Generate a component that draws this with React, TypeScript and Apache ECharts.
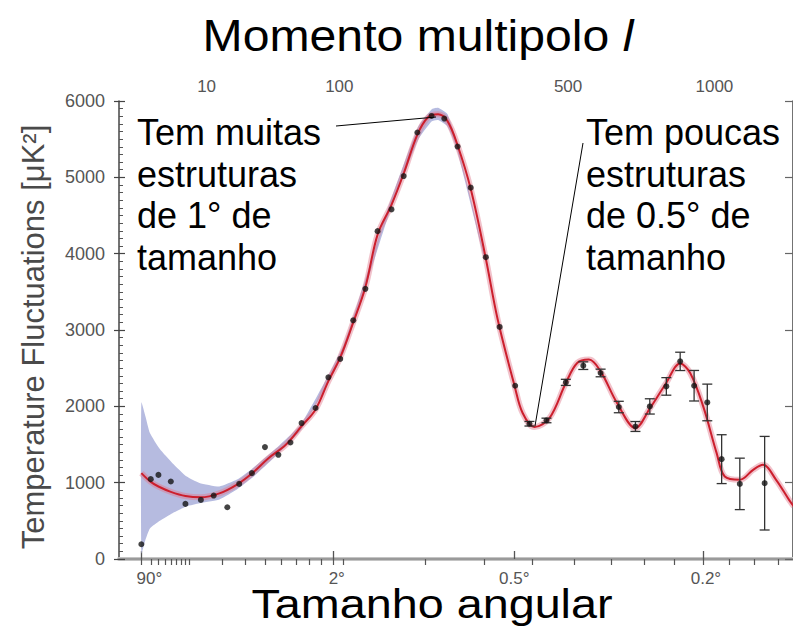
import React, { useEffect, useRef } from "react";
import * as echarts from "echarts";

// Theory curve (multipole l, temperature fluctuation in uK^2)
const curveL = [2, 3, 4, 6, 9, 13, 19, 26, 33, 42, 53, 64, 75, 86, 97, 110, 123, 137, 154, 170, 189, 205, 220, 235, 252, 275, 302, 326, 361, 378, 404, 439, 479, 508, 539, 571, 618, 673, 719, 768, 819, 854, 901, 951, 982, 1041, 1095, 1136, 1192, 1249, 1270];
const curveV = [1125, 1010, 950, 880, 825, 808, 860, 975, 1120, 1320, 1500, 1740, 1960, 2330, 2640, 3100, 3560, 4250, 4640, 5050, 5560, 5790, 5827, 5740, 5420, 4850, 3970, 3140, 2261, 1912, 1728, 1846, 2305, 2568, 2612, 2458, 2043, 1715, 1978, 2283, 2560, 2437, 1999, 1387, 1080, 1037, 1168, 1234, 1037, 774, 690];

// Cosmic-variance band
const bandL = [2, 2.4, 2.9, 4.2, 6.3, 9.3, 12.6, 19, 26, 33, 45, 64, 100, 150, 190, 210, 220, 235, 250, 300];
const bandLo = [75, 250, 400, 500, 600, 690, 730, 780, 910, 1060, 1320, 1700, 2690, 4490, 5490, 5730, 5750, 5670, 5390, 3940];
const bandHi = [2050, 1870, 1650, 1440, 1256, 1080, 997, 950, 1040, 1180, 1420, 1780, 2800, 4610, 5660, 5890, 5910, 5830, 5490, 4000];

// Measured points
const pointL = [2, 3, 4, 6, 9, 13, 17, 22, 27, 33, 40, 48, 56, 64, 75, 86, 97, 110, 123, 137, 154, 170, 189, 210, 230, 252, 275, 303, 330, 362, 393, 432, 479, 524, 571, 623, 673, 718, 772, 819, 868, 916, 970, 1041, 1143];
const pointV = [193, 1046, 1102, 1015, 722, 774, 831, 678, 984, 1125, 1466, 1365, 1526, 1781, 1978, 2380, 2621, 3127, 3539, 4295, 4580, 5017, 5587, 5804, 5770, 5403, 4865, 3954, 3040, 2270, 1772, 1815, 2314, 2533, 2437, 1991, 1736, 1999, 2261, 2589, 2270, 2051, 1308, 984, 993];
const pointErr = [0, 0, 0, 0, 0, 0, 0, 0, 0, 0, 0, 0, 0, 0, 0, 0, 0, 0, 0, 0, 0, 0, 0, 0, 0, 0, 0, 0, 0, 0, 30, 30, 40, 50, 50, 75, 65, 100, 115, 120, 200, 240, 320, 337, 613];

// Axes
const bottomTickL = [2, 90, 360, 900];
const bottomTickLabels = ["90°", "2°", "0.5°", "0.2°"];
const topTickL = [2, 3, 4, 5, 6, 7, 8, 9, 10, 20, 30, 40, 50, 60, 70, 80, 90, 100, 200, 300, 400, 500, 600, 700, 800, 900, 1000, 1100, 1200];
const topLabelL = [10, 100, 500, 1000];
const yMin = 0;
const yMax = 6000;
const yStep = 1000;

// label nudges (px) to mimic the original typesetting
const bottomLabelShift = [8, 4, 0, 3];
const topLabelShift = [17, -4, -6, -15];

const P = 0.4;
const toU = (l: number) => Math.pow(l, P);
const U_MIN = 0.767;
const U_MAX = 17.42;

const FONT = "'Liberation Sans', Arial, Helvetica, sans-serif";

const shiftRich = (shifts: number[]) => {
  const rich: any = {};
  shifts.forEach((s, i) => {
    rich["s" + i] = {
      color: "#555",
      fontSize: 17,
      fontFamily: FONT,
      padding: s >= 0 ? [0, 0, 0, 2 * s] : [0, -2 * s, 0, 0],
    };
  });
  return rich;
};

export default function App() {
  const ref = useRef<HTMLDivElement>(null);
  useEffect(() => {
    if (!ref.current) return;
    const chart = echarts.init(ref.current, null, { renderer: "svg" });

    const bottomVals = bottomTickL.map(toU);
    const topTickVals = topTickL.map(toU);
    const topLabelVals = topLabelL.map(toU);
    const findIdx = (arr: number[], v: number) => {
      let best = 0;
      for (let i = 0; i < arr.length; i++) if (Math.abs(arr[i] - v) < Math.abs(arr[best] - v)) best = i;
      return best;
    };

    const option: any = {
      animation: false,
      backgroundColor: "#ffffff",
      grid: { left: 119, top: 101, width: 678, height: 458, containLabel: false },
      xAxis: [
        {
          type: "value",
          position: "bottom",
          min: U_MIN,
          max: U_MAX,
          axisLine: { show: true, lineStyle: { color: "#c4c4c4", width: 4 } },
          axisTick: { show: true, inside: true, length: 8, customValues: bottomVals, lineStyle: { color: "#555", width: 1.3 } },
          axisLabel: {
            show: true,
            customValues: bottomVals,
            formatter: (v: number) => {
              const i = findIdx(bottomVals, v);
              return "{s" + i + "|" + bottomTickLabels[i] + "}";
            },
            rich: shiftRich(bottomLabelShift),
            color: "#555",
            fontSize: 17,
            fontFamily: FONT,
            margin: 11,
          },
          splitLine: { show: false },
        },
        {
          type: "value",
          position: "top",
          min: U_MIN,
          max: U_MAX,
          axisLine: { show: true, lineStyle: { color: "#9a9a9a", width: 2 } },
          axisTick: { show: true, inside: true, length: 6, customValues: topTickVals, lineStyle: { color: "#555", width: 1.2 } },
          axisLabel: {
            show: true,
            customValues: topLabelVals,
            formatter: (v: number) => {
              const i = findIdx(topLabelVals, v);
              return "{s" + i + "|" + String(topLabelL[i]) + "}";
            },
            rich: shiftRich(topLabelShift),
            color: "#555",
            fontSize: 17,
            fontFamily: FONT,
            margin: 6,
          },
          splitLine: { show: false },
        },
      ],
      yAxis: [
        {
          type: "value",
          position: "left",
          min: yMin,
          max: yMax,
          interval: yStep,
          axisLine: { show: true, lineStyle: { color: "#444", width: 1.5 } },
          axisTick: { show: true, inside: true, length: 6, lineStyle: { color: "#444", width: 1.2 } },
          minorTick: { show: true, splitNumber: 10, length: 4, lineStyle: { color: "#555", width: 1 } },
          axisLabel: { color: "#555", fontSize: 18, fontFamily: FONT, margin: 14, formatter: (v: number) => String(v) },
          splitLine: { show: false },
        },
        {
          type: "value",
          position: "left",
          offset: 0,
          min: yMin,
          max: yMax,
          interval: yStep,
          axisLine: { show: false },
          axisTick: { show: true, inside: false, length: 5, lineStyle: { color: "#444", width: 1.2 } },
          axisLabel: { show: false },
          splitLine: { show: false },
        },
        {
          type: "value",
          position: "right",
          offset: 0,
          min: yMin,
          max: yMax,
          interval: yStep,
          axisLine: { show: true, lineStyle: { color: "#444", width: 1.5 } },
          axisTick: { show: true, inside: true, length: 8, lineStyle: { color: "#666", width: 1.2 } },
          axisLabel: { show: false },
          splitLine: { show: false },
        },
      ],
      series: [
        {
          type: "custom",
          name: "band",
          xAxisIndex: 0,
          yAxisIndex: 0,
          clip: true,
          z: 1,
          data: [[0]],
          renderItem: (_params: any, api: any) => {
            const pts: number[][] = [];
            for (let i = 0; i < bandL.length; i++) pts.push(api.coord([toU(bandL[i]), bandHi[i]]));
            for (let i = bandL.length - 1; i >= 0; i--) pts.push(api.coord([toU(bandL[i]), bandLo[i]]));
            return {
              type: "polygon",
              shape: { points: pts, smooth: 0.15 },
              style: { fill: "#b6bbe0", stroke: "none" },
            };
          },
        },
        {
          type: "line",
          name: "halo",
          xAxisIndex: 0,
          yAxisIndex: 0,
          data: curveL.map((l, i) => [toU(l), curveV[i]]),
          smooth: 0.35,
          symbol: "none",
          z: 2,
          lineStyle: { color: "rgba(225,120,140,0.45)", width: 6 },
        },
        {
          type: "line",
          name: "theory",
          xAxisIndex: 0,
          yAxisIndex: 0,
          data: curveL.map((l, i) => [toU(l), curveV[i]]),
          smooth: 0.35,
          symbol: "none",
          z: 3,
          lineStyle: { color: "#cc1f2d", width: 2 },
        },
        {
          type: "custom",
          name: "errors",
          xAxisIndex: 0,
          yAxisIndex: 0,
          z: 4,
          data: pointL.map((l, i) => [toU(l), pointV[i], pointErr[i]]).filter((d) => d[2] > 0),
          renderItem: (_params: any, api: any) => {
            const x = api.value(0);
            const y = api.value(1);
            const e = api.value(2);
            const t = api.coord([x, y + e]);
            const b = api.coord([x, y - e]);
            const c = 5;
            const st = { stroke: "#333", lineWidth: 1.3 };
            return {
              type: "group",
              children: [
                { type: "line", shape: { x1: t[0], y1: t[1], x2: b[0], y2: b[1] }, style: st },
                { type: "line", shape: { x1: t[0] - c, y1: t[1], x2: t[0] + c, y2: t[1] }, style: st },
                { type: "line", shape: { x1: b[0] - c, y1: b[1], x2: b[0] + c, y2: b[1] }, style: st },
              ],
            };
          },
        },
        {
          type: "scatter",
          name: "data",
          xAxisIndex: 0,
          yAxisIndex: 0,
          z: 5,
          symbol: "circle",
          symbolSize: 6,
          itemStyle: { color: "#151515" },
          data: pointL.map((l, i) => [toU(l), pointV[i]]),
        },
      ],
      graphic: [
        {
          type: "text",
          x: 418,
          y: 36,
          scaleX: 1.07,
          style: {
            text: "{n|Momento multipolo }{i|l}",
            align: "center",
            verticalAlign: "middle",
            rich: {
              n: { fontSize: 45, fontFamily: FONT, fill: "#000" },
              i: { fontSize: 45, fontFamily: FONT, fontStyle: "italic", fill: "#000" },
            },
          },
        },
        {
          type: "text",
          x: 432,
          y: 604,
          scaleX: 1.14,
          style: { text: "Tamanho angular", fontSize: 41, lineHeight: 30, fontFamily: FONT, fill: "#000", align: "center", verticalAlign: "middle" },
        },
        {
          type: "text",
          x: 33,
          y: 337,
          rotation: Math.PI / 2,
          style: { text: "Temperature Fluctuations [μK²]", fontSize: 31, fontFamily: FONT, fill: "#4a4a4a", align: "center", verticalAlign: "middle" },
        },
        {
          type: "text",
          x: 137,
          y: 112,
          style: { text: "Tem muitas\nestruturas\nde 1° de\ntamanho", fontSize: 36, lineHeight: 41.5, fontFamily: FONT, fill: "#000", align: "left", verticalAlign: "top" },
        },
        {
          type: "text",
          x: 586,
          y: 112,
          style: { text: "Tem poucas\nestruturas\nde 0.5° de\ntamanho", fontSize: 36, lineHeight: 41.5, fontFamily: FONT, fill: "#000", align: "left", verticalAlign: "top" },
        },
        { type: "line", shape: { x1: 336, y1: 126, x2: 436, y2: 117 }, style: { stroke: "#000", lineWidth: 1 }, z: 10 },
        { type: "line", shape: { x1: 583, y1: 143, x2: 535, y2: 426 }, style: { stroke: "#000", lineWidth: 1 }, z: 10 },
      ],
    };
    chart.setOption(option);
    return () => chart.dispose();
  }, []);
  return <div ref={ref} style={{ position: "absolute", left: 0, top: 0, width: 793, height: 630, background: "#fff" }} />;
}
